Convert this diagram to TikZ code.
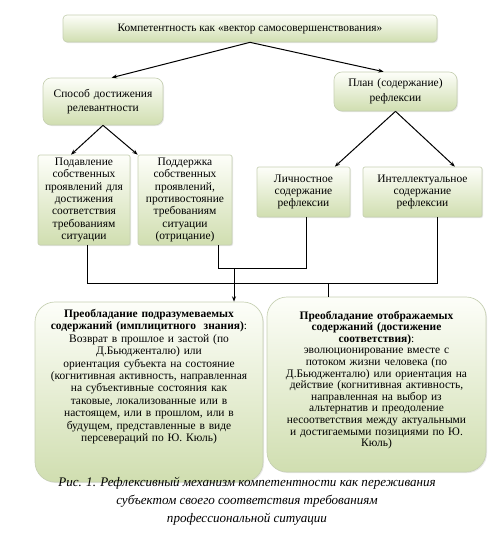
\documentclass[tikz,border=0pt]{standalone}
\usepackage{fontspec}
\setmainfont{Liberation Serif}
\usetikzlibrary{positioning,calc}
\usetikzlibrary{arrows.meta,shadows}
\definecolor{BoxTop}{RGB}{253,254,249}
\definecolor{BoxBottom}{RGB}{208,222,176}
\definecolor{BoxEdge}{RGB}{198,208,178}
\tikzset{
  box/.style={draw=BoxEdge,top color=BoxTop,bottom color=BoxBottom,line width=0.5pt,
    align=center,inner sep=1pt,drop shadow={opacity=0.18,shadow xshift=0.8pt,shadow yshift=-0.8pt}},
  headbox/.style={box,rounded corners=3pt,minimum width=280.5pt,minimum height=20.25pt,
    font=\fontsize{8.5}{10}\selectfont},
  midbox/.style={box,rounded corners=6pt,font=\fontsize{8.6}{11}\selectfont},
  leafbox/.style={box,rounded corners=1.5pt,font=\fontsize{8.6}{9.3}\selectfont},
  bigbox/.style={box,rounded corners=15pt,font=\fontsize{8.6}{9.3}\selectfont},
}
\tikzset{link/.style={draw=black,line width=0.75pt}, arr/.style={link,-{Stealth[length=4pt,width=3pt]}},
  capt/.style={align=center,font=\fontsize{9.8}{13.5}\selectfont\itshape}}

\begin{document}
\begin{tikzpicture}[x=0.75pt,y=-0.75pt]
\useasboundingbox (0,0) rectangle (491,540);
\coordinate (ctop) at (250,28.5);
\coordinate (csposob) at (103,101.5);
\coordinate (cplan) at (395.5,91.5);
\coordinate (cb1) at (84,200);
\coordinate (cb2) at (185,200);
\coordinate (cb3) at (303.5,192);
\coordinate (cb4) at (422.5,192);
\coordinate (cbigL) at (149,392);
\coordinate (cbigR) at (376.5,384.5);
\coordinate (ccapt) at (247,501);
\node[headbox] (top) at (ctop) {Компетентность как «вектор самосовершенствования»};
\node[midbox,minimum width=90pt,minimum height=35.25pt,text width=86pt] (sposob) at (csposob) {Способ достижения\\релевантности};
\node[midbox,minimum width=92.25pt,minimum height=29.25pt,text width=88pt] (plan) at (cplan) {План (содержание)\\рефлексии};
\node[leafbox,minimum width=69pt,minimum height=67.5pt,text width=67pt] (b1) at (cb1) {Подавление\\собственных\\проявлений для\\достижения\\соответствия\\требованиям\\ситуации};
\node[leafbox,minimum width=70.5pt,minimum height=67.5pt,text width=68.5pt] (b2) at (cb2) {Поддержка\\собственных\\проявлений,\\противостояние\\требованиям\\ситуации\\(отрицание)};
\node[leafbox,minimum width=69.75pt,minimum height=37.5pt,text width=67.75pt] (b3) at (cb3) {Личностное\\содержание\\рефлексии};
\node[leafbox,minimum width=89.25pt,minimum height=37.5pt,text width=87.25pt] (b4) at (cb4) {Интеллектуальное\\содержание\\рефлексии};
\node[bigbox,minimum width=171pt,minimum height=135pt,text width=166pt] (bigL) at (cbigL) {\textbf{Преобладание подразумеваемых}\\\textbf{содержаний (имплицитного\ \ знания)}:\\Возврат в прошлое и застой (по\\Д.Бьюдженталю) или\\ориентация субъекта на состояние\\(когнитивная активность, направленная\\на субъективные состояния как\\таковые, локализованные или в\\настоящем, или в прошлом, или в\\будущем, представленные в виде\\персевераций по Ю. Кюль)\par\rule{0pt}{22pt}};
\node[bigbox,font=\fontsize{8.6}{8.7}\selectfont,minimum width=164.25pt,minimum height=131.25pt,text width=160pt] (bigR) at (cbigR) {\textbf{Преобладание отображаемых}\\\textbf{содержаний (достижение}\\\textbf{соответствия)}:\\эволюционирование вместе с\\потоком жизни человека (по\\Д.Бьюдженталю) или ориентация на\\действие (когнитивная активность,\\направленная на выбор из\\альтернатив и преодоление\\несоответствия между актуальными\\и достигаемыми позициями по Ю.\\Кюль)\par\rule{0pt}{4pt}};
\node[capt] (cap) at (ccapt) {Рис. 1. Рефлексивный механизм компетентности как переживания\\субъектом своего соответствия требованиям\\профессиональной ситуации};
\draw[arr] (top.south) -- (sposob.70);
\draw[arr] (top.south) -- (plan.121);
\draw[arr] (sposob.south) -- (b1.106);
\draw[arr] (sposob.south) -- (b2.north west);
\draw[arr] (plan.south) -- (b3.39);
\draw[arr] (plan.south) -- (b4.38);
\coordinate (d1) at ($(b1.south)+(3,0)$);
\coordinate (d2) at ($(b2.south)+(33,0)$);
\coordinate (d3) at ($(b3.south)+(2.5,0)$);
\coordinate (d4) at ($(b4.south)+(15,0)$);
\draw[link] (d2) -- ++(0,23) -| (d3);
\draw[link] (d1) -- ++(0,38) -| (d4);
\coordinate (m1) at (234,268);
\coordinate (m2) at (328,283);
\draw[arr] (m1) -- (m1 |- bigL.north);
\draw[link] (m2) -- (m2 |- bigR.north);
\end{tikzpicture}
\end{document}
